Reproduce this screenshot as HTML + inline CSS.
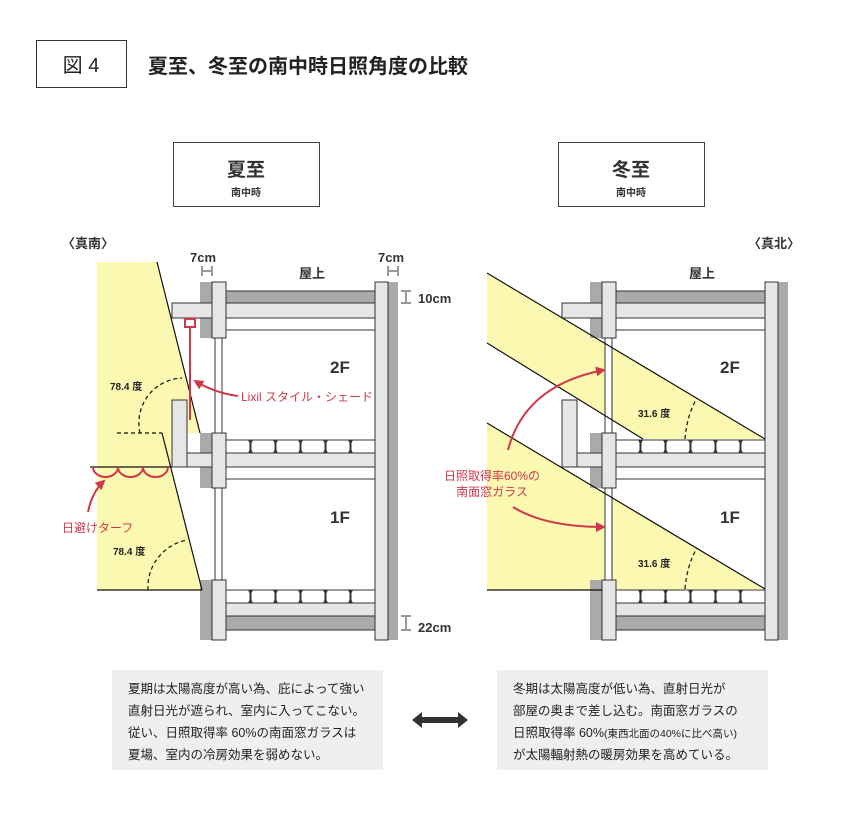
<!DOCTYPE html>
<html><head><meta charset="utf-8"><style>
body{margin:0;background:#fff;}
svg{display:block;font-family:"Liberation Sans","Noto Sans CJK JP",sans-serif;}
</style></head><body>
<svg width="860" height="831" viewBox="0 0 860 831" xmlns="http://www.w3.org/2000/svg">
<defs>
<marker id="ar" markerWidth="10" markerHeight="10" refX="8" refY="5" orient="auto" markerUnits="userSpaceOnUse"><path d="M0,0 L10,5 L0,10 Z" fill="#d0384a"/></marker>
<g id="bld">
  <rect x="200" y="282" width="12" height="56" fill="#aaa"/>
  <rect x="200" y="433" width="12" height="55" fill="#aaa"/>
  <rect x="200" y="580" width="12" height="60" fill="#aaa"/>
  <rect x="388" y="282" width="10" height="358" fill="#aaa"/>
  <rect x="226" y="291" width="149" height="12" fill="#aaa" stroke="#333" stroke-width="1"/>
  <rect x="226" y="616" width="149" height="14" fill="#aaa" stroke="#333" stroke-width="1"/>
  <rect x="215" y="338" width="7" height="95" fill="#fff" stroke="#333" stroke-width="1"/>
  <rect x="215" y="488" width="7" height="92" fill="#fff" stroke="#333" stroke-width="1"/>
  <rect x="226" y="318" width="149" height="12" fill="#fff" stroke="#333" stroke-width="1"/>
  <rect x="226" y="467" width="149" height="12" fill="#fff" stroke="#333" stroke-width="1"/>
  <rect x="226" y="440" width="149" height="13" fill="#fff" stroke="#333" stroke-width="1"/>
  <rect x="226" y="590" width="149" height="13" fill="#fff" stroke="#333" stroke-width="1"/>
  <g fill="#333">
    <path d="M248,440h5l-1.5,3v7l1.5,3h-5l1.5,-3v-7z"/><path d="M273,440h5l-1.5,3v7l1.5,3h-5l1.5,-3v-7z"/><path d="M298,440h5l-1.5,3v7l1.5,3h-5l1.5,-3v-7z"/><path d="M323,440h5l-1.5,3v7l1.5,3h-5l1.5,-3v-7z"/><path d="M348,440h5l-1.5,3v7l1.5,3h-5l1.5,-3v-7z"/>
    <path d="M248,590h5l-1.5,3v7l1.5,3h-5l1.5,-3v-7z"/><path d="M273,590h5l-1.5,3v7l1.5,3h-5l1.5,-3v-7z"/><path d="M298,590h5l-1.5,3v7l1.5,3h-5l1.5,-3v-7z"/><path d="M323,590h5l-1.5,3v7l1.5,3h-5l1.5,-3v-7z"/><path d="M348,590h5l-1.5,3v7l1.5,3h-5l1.5,-3v-7z"/>
  </g>
  <g fill="#e6e6e6" stroke="#333" stroke-width="1">
    <rect x="172" y="303" width="216" height="15"/>
    <rect x="172" y="453" width="216" height="14"/>
    <rect x="172" y="400" width="15" height="67"/>
    <rect x="212" y="603" width="176" height="13"/>
    <rect x="212" y="282" width="14" height="56"/>
    <rect x="212" y="433" width="14" height="55"/>
    <rect x="212" y="580" width="14" height="60"/>
    <rect x="375" y="282" width="13" height="358"/>
  </g>
  <g fill="#e6e6e6">
    <rect x="213" y="304" width="12" height="13"/>
    <rect x="213" y="454" width="12" height="12"/>
    <rect x="173" y="452" width="13" height="14"/>
    <rect x="376" y="304" width="11" height="13"/>
    <rect x="376" y="454" width="11" height="12"/>
    <rect x="376" y="604" width="11" height="11"/>
    <rect x="213" y="604" width="12" height="11"/>
  </g>
</g>
</defs>

<rect x="36.5" y="40.5" width="90" height="47" fill="#fff" stroke="#333"/>
<text x="81" y="72" font-size="20" text-anchor="middle" fill="#222">図 4</text>
<text x="148" y="73" font-size="20" font-weight="bold" fill="#222">夏至、冬至の南中時日照角度の比較</text>

<rect x="173.5" y="142.5" width="146" height="64" fill="#fff" stroke="#444"/>
<text x="246" y="176" font-size="19" font-weight="bold" text-anchor="middle" fill="#333">夏至</text>
<text x="246" y="196" font-size="10" font-weight="bold" text-anchor="middle" fill="#333">南中時</text>
<rect x="558.5" y="142.5" width="146" height="64" fill="#fff" stroke="#444"/>
<text x="631" y="176" font-size="19" font-weight="bold" text-anchor="middle" fill="#333">冬至</text>
<text x="631" y="196" font-size="10" font-weight="bold" text-anchor="middle" fill="#333">南中時</text>

<text x="62" y="248" font-size="13" font-weight="bold" fill="#333">〈真南〉</text>
<text x="748" y="248" font-size="13" font-weight="bold" fill="#333">〈真北〉</text>

<polygon points="97,262 157,262 200,433 172,433 171,467 202,590 97,590" fill="#fbf8b2"/>
<polygon points="487,273 765,439 643,439 487,343" fill="#fbf8b2"/>
<polygon points="487,423 765,589 602,590 487,590" fill="#fbf8b2"/>

<use href="#bld"/>
<use href="#bld" transform="translate(390,0)"/>

<g stroke="#111" stroke-width="1.2" fill="none">
<line x1="157" y1="262" x2="200" y2="433"/>
<line x1="162" y1="433" x2="202" y2="590"/>
<line x1="97" y1="590" x2="202" y2="590"/>
<line x1="90" y1="467" x2="172" y2="467"/>
<line x1="487" y1="273" x2="765" y2="439"/>
<line x1="487" y1="343" x2="643" y2="439"/>
<line x1="487" y1="423" x2="765" y2="589"/>
<line x1="487" y1="590" x2="602" y2="590"/>
</g>
<g stroke="#111" stroke-width="1.2" fill="none" stroke-dasharray="4,3">
<line x1="117" y1="433" x2="162" y2="433"/>
<path d="M140,433 A45,45 0 0 1 182,378"/>
<path d="M148,590 A48,48 0 0 1 187,540"/>
<path d="M685,439 Q687,415 697,398"/>
<path d="M685,589 Q687,565 697,548"/>
</g>
<g font-size="10" font-weight="bold" fill="#222">
<text x="110" y="390">78.4 度</text>
<text x="113" y="555">78.4 度</text>
<text x="638" y="417">31.6 度</text>
<text x="638" y="567">31.6 度</text>
</g>

<g stroke="#d0384a" stroke-width="2" fill="none">
<rect x="185" y="319" width="10" height="8"/>
<line x1="190" y1="327" x2="190" y2="420"/>
<path d="M238,396 Q215,393 195,381" marker-end="url(#ar)"/>
<path d="M93,467 a12.5,10 0 0 0 25,0 a12.5,10 0 0 0 25,0 a12.5,10 0 0 0 25,0"/>
<path d="M88,512 Q92,492 104,481" marker-end="url(#ar)"/>
<path d="M508,450 Q525,385 604,370" marker-end="url(#ar)"/>
<path d="M513,507 Q545,527 604,527" marker-end="url(#ar)"/>
</g>
<g font-size="12" fill="#d0384a">
<text x="241" y="401">Lixil スタイル・シェード</text>
<text x="62" y="532">日避けターフ</text>
<text x="492" y="480" text-anchor="middle">日照取得率60%の</text>
<text x="492" y="496" text-anchor="middle">南面窓ガラス</text>
</g>

<g font-size="13" font-weight="bold" fill="#333">
<text x="190" y="262">7cm</text>
<text x="378" y="262">7cm</text>
<text x="299" y="278">屋上</text>
<text x="689" y="278">屋上</text>
<text x="418" y="303">10cm</text>
<text x="418" y="632">22cm</text>
</g>
<g font-size="17" font-weight="bold" fill="#333">
<text x="330" y="373">2F</text><text x="330" y="523">1F</text>
<text x="720" y="373">2F</text><text x="720" y="523">1F</text>
</g>
<g stroke="#333" stroke-width="1" fill="none">
<path d="M202,266v10M212,266v10M203,271h8"/>
<path d="M388,266v10M398,266v10M389,271h8"/>
<path d="M401,291h10M401,303h10M406,292v10"/>
<path d="M401,616h10M401,630h10M406,617v12"/>
</g>

<rect x="112" y="670" width="271" height="100" fill="#efefef"/>
<rect x="497" y="670" width="271" height="100" fill="#efefef"/>
<g font-size="12.5" fill="#222">
<text x="128" y="693">夏期は太陽高度が高い為、庇によって強い</text>
<text x="128" y="715">直射日光が遮られ、室内に入ってこない。</text>
<text x="128" y="737">従い、日照取得率 60%の南面窓ガラスは</text>
<text x="128" y="759">夏場、室内の冷房効果を弱めない。</text>
<text x="513" y="693">冬期は太陽高度が低い為、直射日光が</text>
<text x="513" y="715">部屋の奥まで差し込む。南面窓ガラスの</text>
<text x="513" y="737">日照取得率 60%<tspan font-size="10.5">(東西北面の40%に比べ高い)</tspan></text>
<text x="513" y="759">が太陽輻射熱の暖房効果を高めている。</text>
</g>
<path d="M412,720 L422,712 V717 H458 V712 L468,720 L458,728 V723 H422 V728 Z" fill="#333"/>
</svg>
</body></html>
